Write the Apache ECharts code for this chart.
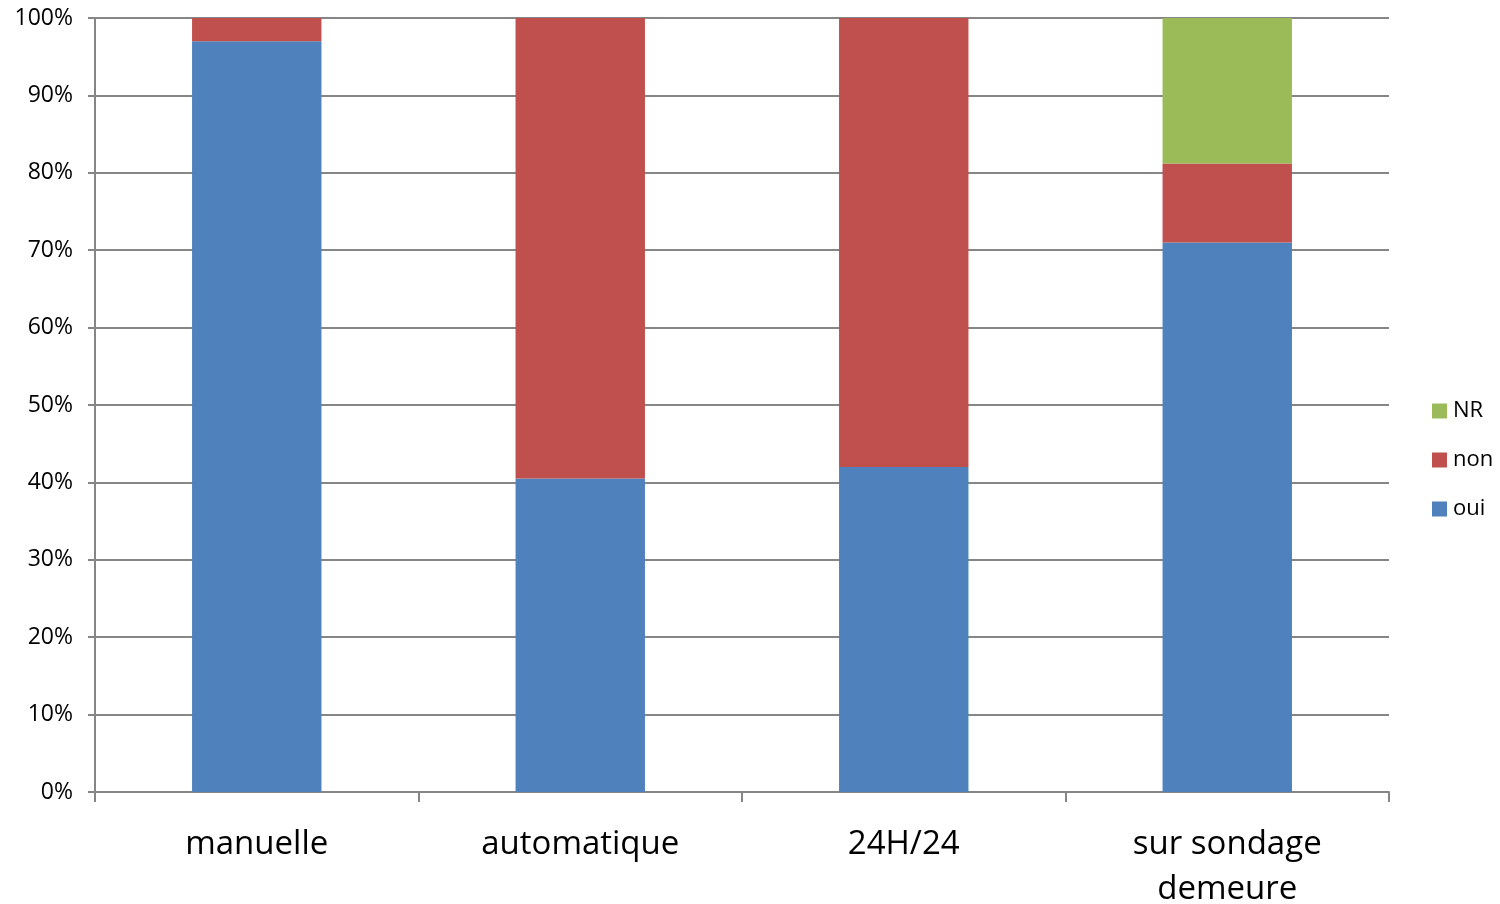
<!DOCTYPE html>
<html><head><meta charset="utf-8">
<script src="https://cdn.jsdelivr.net/npm/echarts@6/dist/echarts.min.js"></script>
<style>html,body{margin:0;padding:0;background:#fff}#c{width:1500px;height:904px}</style>
</head><body><div id="c"></div>
<script>
const categories = ['manuelle', 'automatique', '24H/24', 'sur sondage\ndemeure'];
const oui = [97.0, 40.5, 42.0, 71.0];
const non = [3.0, 59.5, 58.0, 10.2];
const nr = [0, 0, 0, 18.8];
const yTicks = [0, 10, 20, 30, 40, 50, 60, 70, 80, 90, 100];

const font = '"Open Sans", "Liberation Sans", sans-serif';
const chart = echarts.init(document.getElementById('c'));
chart.setOption({
  animation: false,
  backgroundColor: '#fff',
  grid: { left: 95, right: 111, top: 18, bottom: 112, containLabel: false, outerBoundsMode: 'none' },
  legend: {
    orient: 'vertical', left: 1427, top: 395, itemWidth: 15, itemHeight: 15, itemGap: 27,
    icon: 'rect',
    data: ['NR', 'non', 'oui'],
    textStyle: { fontFamily: font, fontSize: 22, color: '#000', padding: [0, 0, 0, 1] }
  },
  xAxis: {
    type: 'category', data: categories,
    axisLine: { lineStyle: { color: '#868686', width: 2 } },
    axisTick: { show: true, length: 10, lineStyle: { color: '#868686', width: 2 } },
    axisLabel: { fontFamily: font, fontSize: 33, color: '#000', margin: 30, lineHeight: 45 }
  },
  yAxis: {
    type: 'value', min: 0, max: 100, interval: 10,
    axisLine: { show: true, lineStyle: { color: '#868686', width: 2 } },
    axisTick: { show: true, length: 7, lineStyle: { color: '#868686', width: 2 } },
    splitLine: { lineStyle: { color: '#868686', width: 2 } },
    axisLabel: {
      fontFamily: font, fontSize: 23, color: '#000', margin: 22,
      formatter: v => yTicks.includes(v) ? v + '%' : ''
    }
  },
  series: [
    { name: 'oui', type: 'bar', stack: 's', data: oui, barWidth: '40%', itemStyle: { color: '#4F81BD' } },
    { name: 'non', type: 'bar', stack: 's', data: non, barWidth: '40%', itemStyle: { color: '#C0504D' } },
    { name: 'NR', type: 'bar', stack: 's', data: nr, barWidth: '40%', itemStyle: { color: '#9BBB59' } }
  ]
});
</script></body></html>
